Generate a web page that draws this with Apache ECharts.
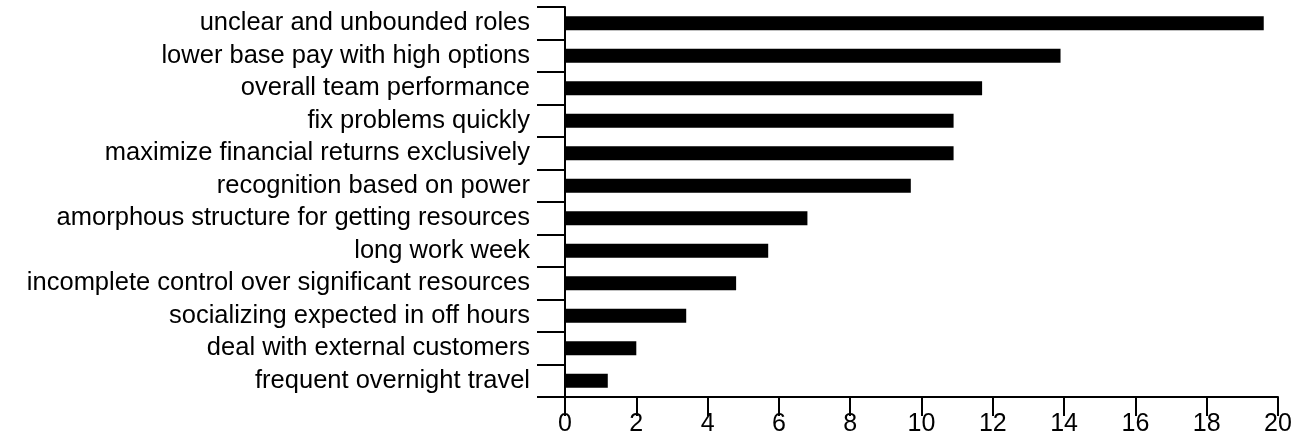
<!DOCTYPE html>
<html>
<head>
<meta charset="utf-8">
<script src="https://cdn.jsdelivr.net/npm/echarts@6/dist/echarts.min.js"></script>
<style>html,body{margin:0;padding:0;background:#fff}#c{width:1296px;height:444px}</style>
</head>
<body>
<div id="c"></div>
<script>
var categories = [
  "unclear and unbounded roles",
  "lower base pay with high options",
  "overall team performance",
  "fix problems quickly",
  "maximize financial returns exclusively",
  "recognition based on power",
  "amorphous structure for getting resources",
  "long work week",
  "incomplete control over significant resources",
  "socializing expected in off hours",
  "deal with external customers",
  "frequent overnight travel"
];
var values = [19.6, 13.9, 11.7, 10.9, 10.9, 9.7, 6.8, 5.7, 4.8, 3.4, 2.0, 1.2];
var xTicks = [0, 2, 4, 6, 8, 10, 12, 14, 16, 18, 20];

var chart = echarts.init(document.getElementById('c'));
chart.setOption({
  animation: false,
  grid: {left: 565, right: 18, top: 7, bottom: 47},
  xAxis: {
    type: 'value', min: xTicks[0], max: xTicks[xTicks.length - 1], interval: 2,
    splitLine: {show: false},
    axisLine: {show: true, lineStyle: {color: '#000', width: 2}},
    axisTick: {show: true, length: 19, lineStyle: {color: '#000', width: 2}},
    axisLabel: {
      color: '#000', fontSize: 25, fontFamily: '"Liberation Sans", Arial, sans-serif',
      margin: 15
    }
  },
  yAxis: {
    type: 'category', data: categories, inverse: true,
    axisLine: {show: true, lineStyle: {color: '#000', width: 2}},
    axisTick: {show: true, interval: 0, length: 28, lineStyle: {color: '#000', width: 2}},
    axisLabel: {
      interval: 0,
      color: '#000', fontSize: 25.5, fontFamily: '"Liberation Sans", Arial, sans-serif',
      margin: 35
    }
  },
  series: [{
    type: 'bar', data: values, barWidth: 14,
    itemStyle: {color: '#000'}
  }]
});
</script>
</body>
</html>
